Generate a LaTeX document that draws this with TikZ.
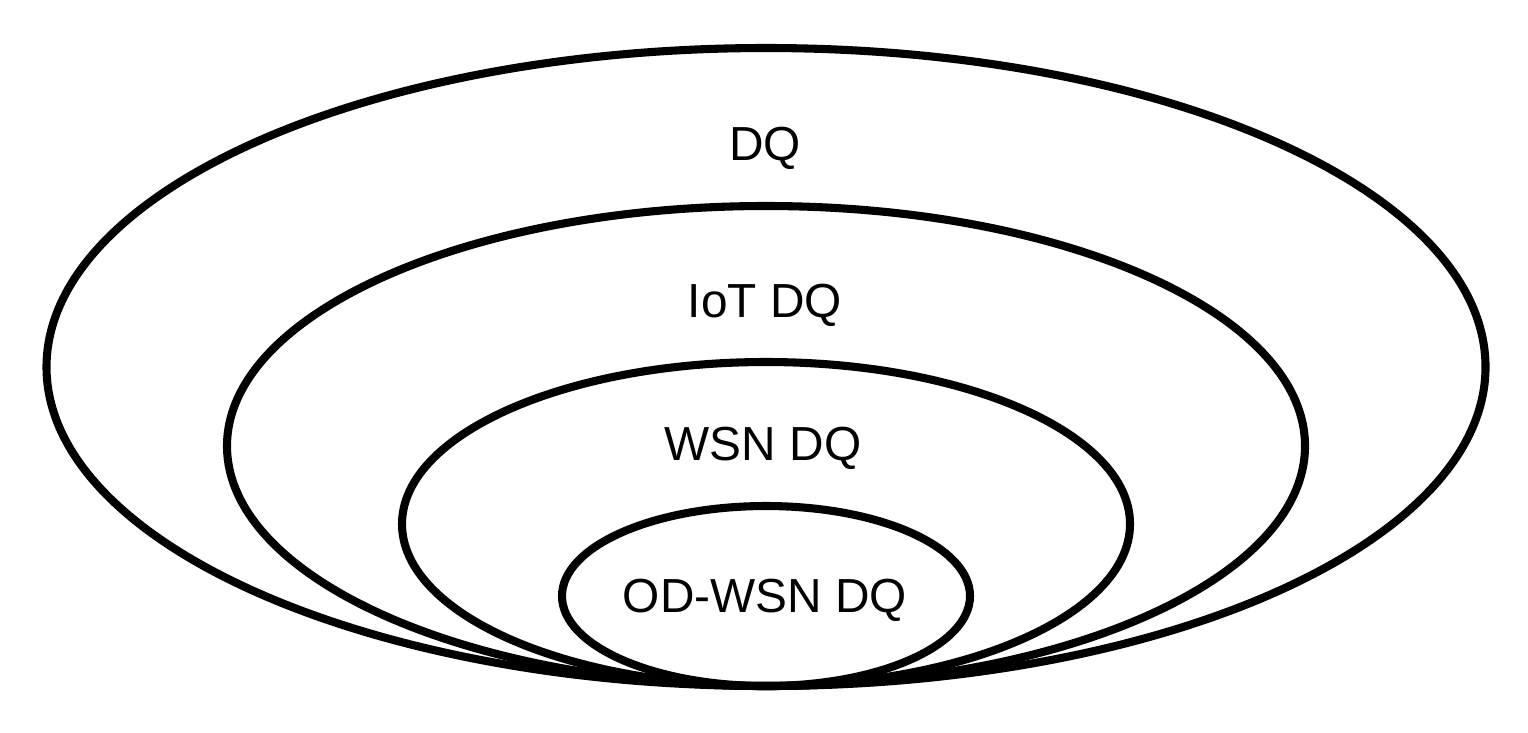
\documentclass[tikz,border=0pt]{standalone}
\usepackage{fontspec}
\setmainfont{Liberation Sans}
\usepackage{tikz}
\usetikzlibrary{shapes}

\begin{document}
\begin{tikzpicture}
  \useasboundingbox (0,0) rectangle (15.28,7.32);
  \begin{scope}[line width=2.3pt]
  \draw (7.66,3.65) ellipse (7.195 and 3.19);
  \draw (7.66,2.86) ellipse (5.39 and 2.40);
  \draw (7.66,2.08) ellipse (3.64 and 1.62);
  \draw (7.66,1.36) ellipse (2.04 and 0.90);
  \end{scope}
  \begin{scope}[every node/.style={anchor=base, inner sep=0pt, font=\fontsize{13.6}{16}\selectfont}]
  \path     (7.65,5.72) node (dq) {DQ};
  \path     (7.65,4.15) node (iot) {IoT DQ};
  \path     (7.63,2.72) node (wsn) {WSN DQ};
  \path     (7.65,1.20) node (odwsn) {OD-WSN DQ};
  \end{scope}
\end{tikzpicture}
\end{document}
